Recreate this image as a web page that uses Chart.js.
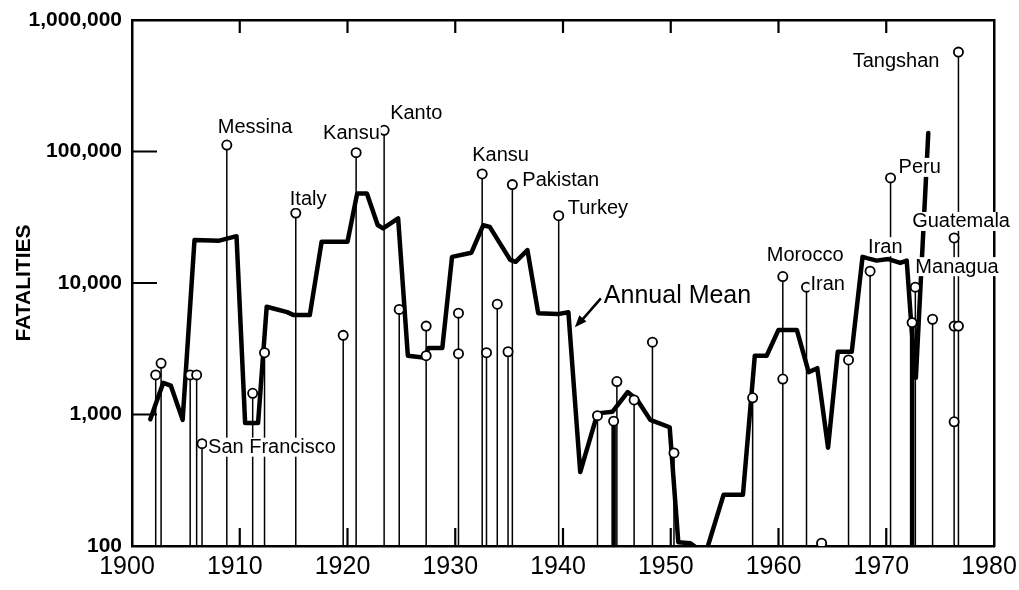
<!DOCTYPE html>
<html><head><meta charset="utf-8">
<script src="https://cdn.jsdelivr.net/npm/chart.js@4"></script>
<style>html,body{margin:0;padding:0;background:#fff;}#wrap{width:1019px;height:590px;position:relative;}canvas{display:block}</style>
</head><body><div id="wrap"><canvas id="c"></canvas></div>
<script>
// ---- data ----
const xTickYears = [1900,1910,1920,1930,1940,1950,1960,1970,1980];
const yTickValues = [100,1000,10000,100000,1000000];

const meanYears  = [1901.7,1902.9,1903.6,1904.7,1905.8,1908.1,1909.7,1910.5,1911.7,1912.5,1914.4,1915.0,1916.5,1917.6,1920.0,1920.9,1921.8,1922.8,1923.3,1924.7,1925.6,1927.2,1927.5,1928.8,1929.7,1931.5,1932.6,1933.2,1935.1,1935.6,1936.7,1937.7,1939.5,1940.5,1941.6,1943.2,1944.6,1946.0,1946.9,1948.1,1949.9,1950.7,1951.8,1952.4,1953.4,1954.9,1956.7,1957.8,1958.9,1960.0,1961.7,1962.8,1963.6,1964.6,1965.5,1966.8,1967.8,1969.1,1970.2,1971.3,1971.9,1972.35,1972.75,1973.9];
const meanValues = [920,1740,1660,910,21200,21000,22700,860,860,6600,6000,5700,5700,20600,20600,48000,48000,27600,26000,31000,2800,2700,3200,3200,15800,17000,27500,26700,15000,14500,17800,5900,5800,6000,365,1020,1050,1480,1290,910,800,107,105,97,97,245,245,2800,2800,4400,4400,2100,2250,560,3000,3000,15800,14800,15200,14200,14800,4500,1900,138000];

const stemYears = [1902.2,1902.7,1905.4,1906.0,1906.5,1908.8,1911.2,1912.3,1915.2,1919.6,1920.8,1923.4,1924.8,1927.3,1930.3,1932.5,1932.9,1933.9,1934.9,1935.3,1939.6,1943.2,1945.0,1946.6,1948.3,1950.3,1957.6,1960.4,1962.6,1964.0,1966.5,1968.5,1970.4,1972.7,1974.3,1976.3,1976.7];
const stemTops  = [2000,2450,2000,2000,600,112000,1450,2950,34000,4000,98000,145000,6300,4700,5900,67500,2950,6900,3000,56000,32500,980,1780,1290,3550,510,1340,11200,9300,105,2600,12300,63000,9300,5300,22000,570000];
const heavyStemYears = [1944.7,1972.4];
const heavyStemTops  = [890,5000];

const quakeYears  = [1902.2,1902.7,1905.4,1906.0,1906.5,1908.8,1911.2,1912.3,1915.2,1919.6,1920.8,1923.4,1924.8,1927.3,1927.3,1930.3,1930.3,1932.5,1932.9,1933.9,1934.9,1935.3,1939.6,1943.2,1944.7,1945.0,1946.6,1948.3,1950.3,1957.6,1960.4,1960.4,1962.6,1964.0,1966.5,1968.5,1970.4,1972.4,1972.7,1974.3,1976.3,1976.3,1976.3,1976.7,1976.7];
const quakeValues = [2000,2450,2000,2000,600,112000,1450,2950,34000,4000,98000,145000,6300,4700,2800,5900,2900,67500,2950,6900,3000,56000,32500,980,890,1780,1290,3550,510,1340,11200,1860,9300,105,2600,12300,63000,5000,9300,5300,22000,4700,880,570000,4700];

const eventNames  = ['Messina','San Francisco','Italy','Kansu','Kanto','Kansu','Pakistan','Turkey','Morocco','Iran','Iran','Peru','Tangshan','Guatemala','Managua'];
const eventYears  = [1908.8,1906.5,1915.2,1920.8,1923.4,1932.5,1935.3,1939.6,1960.4,1962.6,1968.5,1970.4,1976.7,1976.3,1972.7];
const eventValues = [112000,600,34000,98000,145000,67500,56000,32500,11200,9300,12300,63000,570000,22000,9300];

const meanLabel = 'Annual Mean';
const meanArrowYear = 1941.1;
const meanArrowValue = 4600;
const yTitle = 'FATALITIES';

// ---- label placement (pixels, relative to the marked point) ----
const eventPlacement = [
  {dx:-9,dy:-19,align:'left'},{dx:6,dy:3,align:'left'},{dx:-6,dy:-15,align:'left'},
  {dx:-33,dy:-20,align:'left'},{dx:6,dy:-18,align:'left'},{dx:-10,dy:-19,align:'left'},
  {dx:10,dy:-5,align:'left'},{dx:9,dy:-8,align:'left'},{dx:-16,dy:-22,align:'left'},
  {dx:4,dy:-4,align:'left'},{dx:-2,dy:-25,align:'left'},{dx:8,dy:-11,align:'left'},
  {dx:-19,dy:8,align:'right'},{dx:-42,dy:-17,align:'left'},{dx:0,dy:-21,align:'left'}
];
const innerTick = {bottom:18, top:13, left:25};

function stemPoints(years, tops){
  const pts=[];
  years.forEach((yr,i)=>{pts.push({x:yr,y:yTickValues[0]},{x:yr,y:tops[i]},{x:yr,y:null});});
  return pts;
}
function pin(prop, val){
  return s=>{ s[prop]=val; s.paddingLeft=0; s.paddingRight=0; s.paddingTop=0; s.paddingBottom=0; };
}

// inward-pointing tick marks, placed by the axes themselves
const innerTicks = {
  id:'innerTicks',
  afterDatasetsDraw(chart){
    const {ctx, chartArea:a, scales:{x,y}} = chart;
    ctx.save();
    ctx.strokeStyle='#000'; ctx.lineWidth=2.2;
    ctx.beginPath();
    xTickYears.forEach(v=>{
      const px = x.getPixelForValue(v);
      if (px < a.left+2 || px > a.right-2) return;
      ctx.moveTo(px, a.bottom); ctx.lineTo(px, a.bottom-innerTick.bottom);
      ctx.moveTo(px, a.top); ctx.lineTo(px, a.top+innerTick.top);
    });
    yTickValues.forEach(v=>{
      const py = y.getPixelForValue(v);
      if (py < a.top+2 || py > a.bottom-2) return;
      ctx.moveTo(a.left, py); ctx.lineTo(a.left+innerTick.left, py);
    });
    ctx.stroke();
    ctx.restore();
  }
};

const annotate = {
  id:'annotate',
  afterDraw(chart){
    const {ctx, scales:{x,y}} = chart;
    ctx.save();
    ctx.fillStyle='#000';
    ctx.textBaseline='middle';
    ctx.font='20px "Liberation Sans", Arial, sans-serif';
    eventNames.forEach((name,i)=>{
      const p = eventPlacement[i];
      const px = x.getPixelForValue(eventYears[i]) + p.dx;
      const py = y.getPixelForValue(eventValues[i]) + p.dy;
      const w = ctx.measureText(name).width;
      const left = p.align==='right' ? px - w : px;
      ctx.fillStyle='#fff';
      ctx.fillRect(left-1, py-9, w+2, 19);
      ctx.fillStyle='#000';
      ctx.textAlign='left';
      ctx.fillText(name, left, py+1);
    });
    // Annual Mean label and arrow
    const ax = x.getPixelForValue(meanArrowYear), ay = y.getPixelForValue(meanArrowValue);
    const tx = ax+26, ty = ay-29;
    ctx.strokeStyle='#000'; ctx.lineWidth=2.5;
    ctx.beginPath(); ctx.moveTo(tx,ty); ctx.lineTo(ax+6,ay-6); ctx.stroke();
    const ang = Math.atan2(ay-ty, ax-tx);
    ctx.beginPath();
    ctx.moveTo(ax,ay);
    ctx.lineTo(ax-13*Math.cos(ang-0.38), ay-13*Math.sin(ang-0.38));
    ctx.lineTo(ax-13*Math.cos(ang+0.38), ay-13*Math.sin(ang+0.38));
    ctx.closePath(); ctx.fill();
    ctx.font='25px "Liberation Sans", Arial, sans-serif';
    ctx.fillText(meanLabel, ax+29, ay-31);
    ctx.restore();
  }
};

const black='#000';
new Chart(document.getElementById('c'), {
  data:{
    datasets:[
      {type:'scatter', data:quakeYears.map((v,i)=>({x:v,y:quakeValues[i]})), pointRadius:4.6, pointBackgroundColor:'#fff', pointBorderColor:black, pointBorderWidth:1.8, order:0},
      {type:'line', data:meanYears.map((v,i)=>({x:v,y:meanValues[i]})), borderColor:black, borderWidth:4.5, pointRadius:0, tension:0, borderJoinStyle:'round', borderCapStyle:'round', order:1},
      {type:'line', data:stemPoints(stemYears,stemTops), borderColor:black, borderWidth:1.5, pointRadius:0, spanGaps:false, order:2},
      {type:'line', data:stemPoints(heavyStemYears,heavyStemTops), borderColor:black, borderWidth:4.5, pointRadius:0, spanGaps:false, order:2}
    ]
  },
  options:{
    responsive:true, maintainAspectRatio:false, animation:false,
    layout:{padding:0},
    plugins:{legend:{display:false}, tooltip:{enabled:false}},
    scales:{
      x:{type:'linear', position:'bottom', min:xTickYears[0], max:xTickYears[xTickYears.length-1],
         afterBuildTicks:s=>{s.ticks=xTickYears.map(v=>({value:v}));},
         afterFit:pin('height',44),
         grid:{drawOnChartArea:false, drawTicks:false},
         border:{display:true, color:black, width:2.5},
         ticks:{padding:6, labelOffset:-5, color:black, font:{family:'"Liberation Sans"', size:25}, callback:v=>String(v), maxRotation:0, autoSkip:false}
      },
      x2:{type:'linear', position:'top', min:xTickYears[0], max:xTickYears[xTickYears.length-1],
         afterFit:pin('height',20),
         grid:{drawOnChartArea:false, drawTicks:false},
         border:{display:true, color:black, width:2.5},
         ticks:{display:false}
      },
      y:{type:'logarithmic', position:'left', min:yTickValues[0], max:yTickValues[yTickValues.length-1],
         afterBuildTicks:s=>{s.ticks=yTickValues.map(v=>({value:v}));},
         afterFit:pin('width',132),
         grid:{drawOnChartArea:false, drawTicks:false},
         border:{display:true, color:black, width:2.5},
         ticks:{padding:10, color:black, font:{family:'"Liberation Sans"', size:21, weight:'bold'}, callback:v=>Number(v).toLocaleString('en-US')},
         title:{display:true, text:yTitle, color:black, font:{family:'"Liberation Sans"', size:21, weight:'bold'}, padding:{top:12,bottom:0}}
      },
      y2:{type:'logarithmic', position:'right', min:yTickValues[0], max:yTickValues[yTickValues.length-1],
         afterFit:pin('width',25),
         grid:{drawOnChartArea:false, drawTicks:false},
         border:{display:true, color:black, width:2.5},
         ticks:{display:false}
      }
    }
  },
  plugins:[innerTicks, annotate]
});
</script>
</body></html>
